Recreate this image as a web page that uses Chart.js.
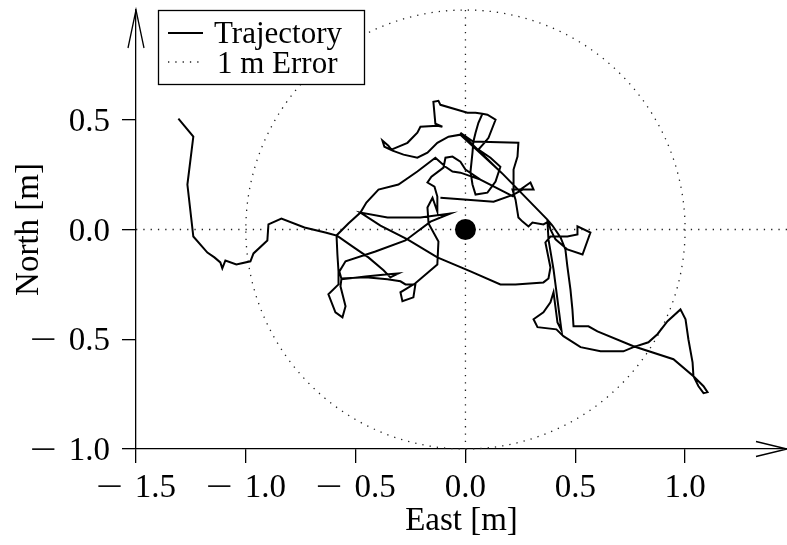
<!DOCTYPE html>
<html>
<head>
<meta charset="utf-8">
<title>Trajectory – East/North error</title>
<script src="https://cdn.jsdelivr.net/npm/chart.js@4.4.1/dist/chart.umd.min.js"></script>
<style>
  html, body { margin: 0; padding: 0; background: #fff; }
  #c { display: block; }
</style>
</head>
<body>
<canvas id="c" width="787" height="545"></canvas>
<script>
// Trajectory samples, east / north in metres (in recording order)
const east = [
  -1.307,-1.239,-1.266,-1.239,-1.175,-1.143,-1.116,-1.107,-1.093,-1.043,-0.979,-0.965,-0.902,-0.897,-0.838,-0.733,-0.638,-0.587,
  -0.583,-0.578,-0.578,-0.624,-0.592,-0.560,-0.546,-0.569,-0.565,-0.455,-0.364,-0.305,-0.342,-0.373,-0.442,-0.515,-0.587,-0.533,-0.478,
  -0.451,-0.396,-0.305,-0.219,-0.137,-0.091,-0.059,-0.023,0.068,0.219,0.068,0.000,-0.023,-0.059,-0.091,-0.100,-0.155,-0.173,-0.141,-0.128,-0.128,-0.150,-0.173,
  -0.168,-0.123,-0.128,-0.228,-0.296,-0.287,-0.237,-0.228,-0.273,-0.296,-0.355,-0.455,-0.565,-0.574,-0.546,-0.410,-0.273,-0.219,-0.159,-0.068,
  -0.205,-0.355,-0.478,
  -0.387,-0.264,-0.128,0.023,0.159,0.228,0.355,0.378,
  0.387,0.364,0.387,0.464,0.510,0.510,0.569,0.533,0.464,0.410,0.387,0.378,0.355,0.305,0.287,0.260,0.241,0.228,0.214,0.250,0.296,0.310,0.260,0.219,
  0.128,0.009,-0.114,0.009,0.128,0.219,
  0.219,0.237,0.241,0.068,0.036,-0.023,
  0.173,0.373,
  0.396,0.433,0.455,0.464,0.478,0.487,0.492,0.560,0.601,0.765,0.947,1.038,1.061,1.084,1.102,1.084,1.038,1.034,1.015,1.002,
  0.979,0.920,0.874,0.833,0.765,0.719,0.615,0.524,0.446,0.414,0.328,0.310,0.355,0.387,0.401,0.419,0.437,0.401,0.378,0.373,
  0.173,-0.023,
  -0.077,-0.128,-0.173,-0.219,-0.282,-0.332,-0.369,-0.378,-0.351,-0.337,-0.264,-0.219,-0.205,-0.128,-0.105,-0.137,-0.146,-0.123,-0.114,0.009,
  0.046,0.077,0.100,0.137,0.105,0.091,0.059,0.114,0.159,0.137,0.100,0.046,0.032,0.023,0.032,0.036,0.046,0.059,0.077
];
const north = [
  0.505,0.423,0.205,-0.032,-0.105,-0.127,-0.150,-0.177,-0.141,-0.159,-0.145,-0.109,-0.050,0.023,0.050,0.009,-0.014,-0.027,
  -0.114,-0.191,-0.250,-0.295,-0.377,-0.400,-0.350,-0.259,-0.227,-0.214,-0.205,-0.200,-0.218,-0.186,-0.127,-0.077,-0.027,0.027,0.077,
  0.123,0.182,0.205,0.264,0.327,0.286,0.264,0.259,0.227,0.150,0.227,0.273,0.309,0.332,0.327,0.282,0.241,0.214,0.195,0.150,0.082,0.145,0.100,
  0.027,-0.055,-0.159,-0.245,-0.286,-0.327,-0.309,-0.250,-0.250,-0.236,-0.227,-0.218,-0.223,-0.191,-0.145,-0.100,-0.050,-0.009,0.036,0.073,
  0.055,0.055,0.077,
  0.018,-0.045,-0.127,-0.191,-0.250,-0.250,-0.241,-0.223,
  -0.173,-0.059,-0.032,-0.032,-0.023,0.014,-0.014,-0.114,-0.091,-0.045,0.000,0.036,0.023,0.032,0.014,0.036,0.055,0.136,0.182,0.182,0.214,0.182,0.182,0.159,
  0.127,0.136,0.145,0.136,0.127,0.159,
  0.273,0.332,0.395,0.400,0.400,0.441,
  0.250,0.045,
  0.018,-0.036,-0.091,-0.168,-0.273,-0.364,-0.441,-0.441,-0.464,-0.532,-0.591,-0.668,-0.714,-0.745,-0.741,-0.714,-0.668,-0.605,-0.500,-0.409,
  -0.364,-0.418,-0.477,-0.514,-0.536,-0.555,-0.555,-0.536,-0.486,-0.455,-0.445,-0.409,-0.377,-0.332,-0.286,-0.423,-0.459,-0.182,-0.045,0.045,
  0.250,0.432,
  0.423,0.395,0.350,0.327,0.341,0.359,0.377,0.405,0.382,0.364,0.395,0.441,0.468,0.473,0.468,0.482,0.582,0.586,0.568,0.532,
  0.532,0.527,0.523,0.500,0.418,0.400,0.364,0.327,0.286,0.218,0.168,0.159,0.205,0.264,0.350,0.400,0.441,0.486,0.527
];

// Reference point and the error radius around it
const targetEast = [0.0];
const targetNorth = [0.0];
const errorRadius = 1.0; // m

// Axis ranges and tick values
const eastRange = [-1.5, 1.464];
const northRange = [-1.0, 1.0];
const eastTicks = [-1.5, -1.0, -0.5, 0.0, 0.5, 1.0];
const northTicks = [-1.0, -0.5, 0.0, 0.5];

const serif = "'Liberation Serif', 'Times New Roman', serif";
const digitFont = `33px ${serif}`;
const minusStretch = 1.45; // widen the minus sign to a math-style dash
const minusGap = 12;

const trajectoryPoints = east.map((x, i) => ({ x, y: north[i] }));
const targetPoints = targetEast.map((x, i) => ({ x, y: targetNorth[i] }));

// Dotted error circle + cross hairs, axis arrows, tick numbers and the boxed legend
const decorations = {
  id: 'decorations',
  beforeDatasetsDraw(chart) {
    const { ctx, chartArea: a, scales: { x, y } } = chart;
    const cx = x.getPixelForValue(0), cy = y.getPixelForValue(0);
    const rx = x.getPixelForValue(errorRadius) - cx;
    const ry = cy - y.getPixelForValue(errorRadius);
    ctx.save();
    ctx.strokeStyle = '#222';
    ctx.lineWidth = 1.3;
    ctx.setLineDash([1.3, 6]);
    ctx.beginPath();
    ctx.ellipse(cx, cy, rx, ry, 0, 0, Math.PI * 2);
    ctx.stroke();
    ctx.beginPath();
    ctx.moveTo(a.left, cy); ctx.lineTo(a.right, cy);
    ctx.moveTo(cx, a.top); ctx.lineTo(cx, a.bottom);
    ctx.stroke();
    ctx.restore();
  },
  afterDraw(chart) {
    const { ctx, chartArea: a, scales: { x, y } } = chart;
    ctx.save();
    // axis arrow heads
    ctx.strokeStyle = '#000';
    ctx.lineWidth = 1.3;
    ctx.beginPath();
    ctx.moveTo(a.left - 8, a.top + 38); ctx.lineTo(a.left, a.top); ctx.lineTo(a.left + 8, a.top + 38);
    ctx.moveTo(a.right - 31, a.bottom - 7.5); ctx.lineTo(a.right, a.bottom); ctx.lineTo(a.right - 31, a.bottom + 7.5);
    ctx.stroke();

    // tick numbers: stretched minus, small gap, then the digits
    ctx.fillStyle = '#000';
    ctx.textAlign = 'left';
    ctx.textBaseline = 'alphabetic';
    ctx.font = digitFont;
    const measure = v => {
      const digits = Math.abs(v).toFixed(1);
      const dw = ctx.measureText(digits).width;
      const mw = v < 0 ? ctx.measureText('\u2212').width * minusStretch + minusGap : 0;
      return { digits, mw, w: dw + mw };
    };
    const put = (v, left, base) => {
      const m = measure(v);
      if (v < 0) {
        ctx.save();
        ctx.translate(left, base);
        ctx.scale(minusStretch, 1);
        ctx.fillText('\u2212', 0, 0);
        ctx.restore();
      }
      ctx.fillText(m.digits, left + m.mw, base);
    };
    x.ticks.forEach(t => {
      const m = measure(t.value);
      put(t.value, x.getPixelForValue(t.value) - m.w / 2, a.bottom + 48);
    });
    y.ticks.forEach(t => {
      const m = measure(t.value);
      put(t.value, a.left - 26 - m.w, y.getPixelForValue(t.value) + 11);
    });

    // legend
    const bx = 158.5, by = 10.5, bw = 206, bh = 74;
    ctx.fillStyle = '#fff';
    ctx.fillRect(bx, by, bw, bh);
    ctx.strokeRect(bx, by, bw, bh);
    const ds = chart.data.datasets;
    ctx.font = `31px ${serif}`;
    ctx.fillStyle = '#000';
    // solid sample
    ctx.lineWidth = 1.8;
    ctx.beginPath(); ctx.moveTo(168, 33); ctx.lineTo(203, 33); ctx.stroke();
    ctx.fillText(ds[0].label, 214, 43);
    // dotted sample
    ctx.lineWidth = 1.3;
    ctx.strokeStyle = '#222';
    ctx.setLineDash([1.3, 6]);
    ctx.beginPath(); ctx.moveTo(168, 62); ctx.lineTo(204, 62); ctx.stroke();
    ctx.setLineDash([]);
    ctx.fillText('1 m Error', 217, 73);
    ctx.restore();
  }
};

// keep the plot frame exactly where the axes were fitted
const noEdgePadding = s => { s.paddingTop = 0; s.paddingBottom = 0; s.paddingLeft = 0; s.paddingRight = 0; };

new Chart(document.getElementById('c'), {
  type: 'scatter',
  data: {
    datasets: [
      {
        label: 'Trajectory',
        data: trajectoryPoints,
        showLine: true,
        borderColor: '#000',
        borderWidth: 2,
        pointRadius: 0,
        tension: 0,
        fill: false
      },
      {
        label: 'Target',
        data: targetPoints,
        pointRadius: 10.5,
        backgroundColor: '#000',
        borderWidth: 0
      }
    ]
  },
  options: {
    responsive: false,
    animation: false,
    layout: { autoPadding: false, padding: { top: 10, right: 0, left: 0, bottom: 0 } },
    plugins: { legend: { display: false }, tooltip: { enabled: false } },
    scales: {
      x: {
        type: 'linear',
        min: eastRange[0],
        max: eastRange[1],
        afterBuildTicks: s => { s.ticks = eastTicks.map(v => ({ value: v })); },
        afterFit: s => { s.height = 96; noEdgePadding(s); },
        ticks: { display: false },
        grid: { drawOnChartArea: false, drawTicks: true, tickLength: 14, color: '#000', lineWidth: 1.3 },
        border: { display: true, color: '#000', width: 1.3 },
        title: {
          display: true, text: 'East [m]', color: '#000',
          font: { family: serif, size: 33 }, padding: { top: 0, bottom: 4 }
        }
      },
      y: {
        type: 'linear',
        min: northRange[0],
        max: northRange[1],
        afterBuildTicks: s => { s.ticks = northTicks.map(v => ({ value: v })); },
        afterFit: s => { s.width = 136; noEdgePadding(s); },
        ticks: { display: false },
        grid: { drawOnChartArea: false, drawTicks: true, tickLength: 14, color: '#000', lineWidth: 1.3 },
        border: { display: true, color: '#000', width: 1.3 },
        title: {
          display: true, text: 'North [m]', color: '#000',
          font: { family: serif, size: 33 }, padding: { top: 10, bottom: 0 }
        }
      }
    }
  },
  plugins: [decorations]
});
</script>
</body>
</html>
